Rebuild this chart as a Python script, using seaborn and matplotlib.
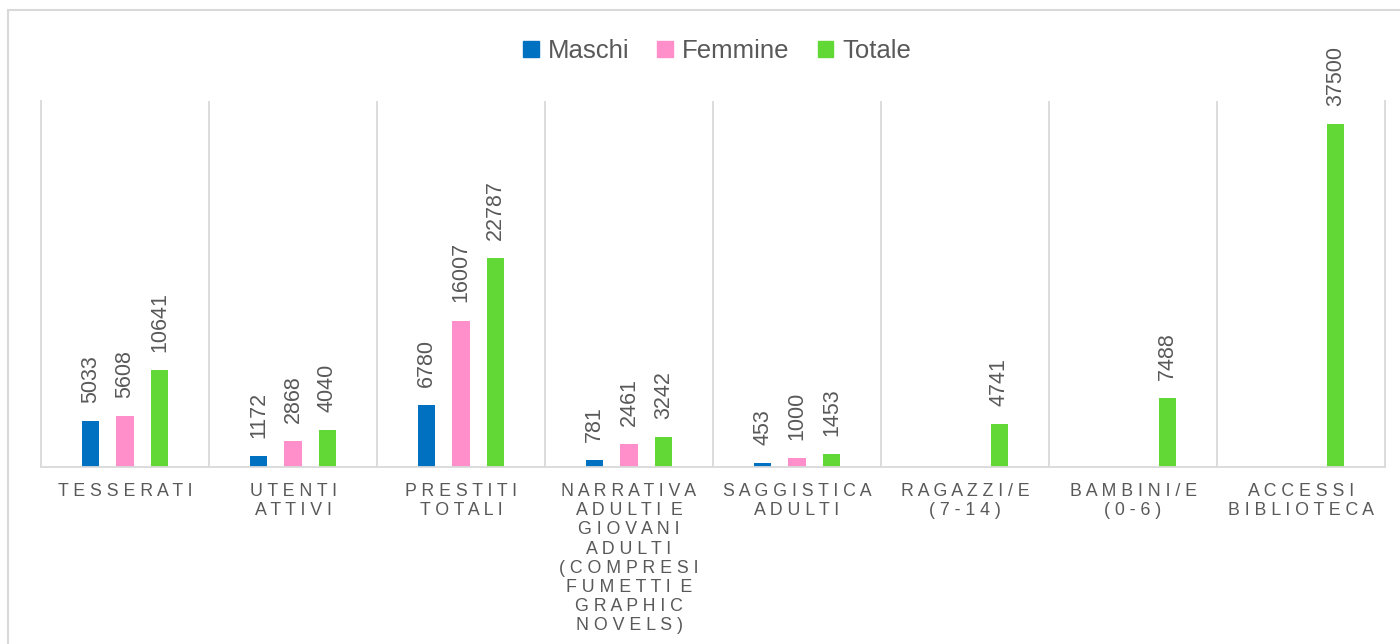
import numpy as np
import pandas as pd
import matplotlib
matplotlib.use("Agg")
import matplotlib.pyplot as plt
import seaborn as sns
from matplotlib.patches import Rectangle

categories = ["TESSERATI", "UTENTI\nATTIVI", "PRESTITI\nTOTALI",
              "NARRATIVA\nADULTI E\nGIOVANI\nADULTI\n(COMPRESI\nFUMETTI E\nGRAPHIC\nNOVELS)",
              "SAGGISTICA\nADULTI", "RAGAZZI/E\n(7-14)", "BAMBINI/E\n(0-6)", "ACCESSI\nBIBLIOTECA"]
series = ["Maschi", "Femmine", "Totale"]
maschi = [5033, 1172, 6780, 781, 453, np.nan, np.nan, np.nan]
femmine = [5608, 2868, 16007, 2461, 1000, np.nan, np.nan, np.nan]
totale = [10641, 4040, 22787, 3242, 1453, 4741, 7488, 37500]
colors = ["#0070C0", "#FF8FCA", "#62D836"]

rows = []
for name, vals in zip(series, [maschi, femmine, totale]):
    for c, v in zip(categories, vals):
        rows.append({"cat": c, "serie": name, "val": v})
df = pd.DataFrame(rows)

sns.set_style("white")
plt.rcParams["font.family"] = ["Liberation Sans", "DejaVu Sans"]
TXT = "#595959"
GRID = "#D9D9D9"

fig = plt.figure(figsize=(14, 6.44), dpi=100)
ax = fig.add_axes([41/1400, 1-467/644, (1385-41)/1400, (467-101)/644])

sns.barplot(data=df, x="cat", y="val", hue="serie", order=categories,
            hue_order=series, palette=colors, width=0.615, gap=0.49,
            ax=ax, legend=False, saturation=1, linewidth=0)

for cont in ax.containers:
    labels = [("" if (v is None or np.isnan(v) or v == 0) else f"{v:.0f}") for v in cont.datavalues]
    ax.bar_label(cont, labels=labels, rotation=90, padding=13, fontsize=15.5, color=TXT)

ax.set_ylim(0, 40000)
ax.set_xlim(-0.5, len(categories) - 0.5)
ax.set_yticks([])
ax.set_xlabel("")
ax.set_ylabel("")

def spaced(s):
    return "\n".join("  ".join(" ".join(w) for w in line.split(" ")) for line in s.split("\n"))

ax.set_xticks(range(len(categories)))
ax.set_xticklabels([spaced(c) for c in categories], fontsize=12.8, color=TXT,
                   linespacing=1.17, va="top")
ax.tick_params(axis="x", length=0, pad=11.5)
ax.set_xticks(np.arange(0.5, len(categories) - 1, 1.0), minor=True)
ax.tick_params(axis="x", which="minor", length=0)
ax.grid(False)
ax.grid(which="minor", axis="x", color=GRID, linewidth=1.3)
ax.set_axisbelow(True)
for s in ["left", "right", "bottom"]:
    ax.spines[s].set_color(GRID)
    ax.spines[s].set_linewidth(1.3)
ax.spines["top"].set_visible(False)

handles = [Rectangle((0, 0), 1, 1, color=c) for c in colors]
fig.legend(handles, series, loc="center", bbox_to_anchor=(717/1400, 1-51/644),
           ncol=3, frameon=False, fontsize=18.5, labelcolor=TXT,
           handlelength=0.6, handleheight=0.6, handletextpad=0.35, columnspacing=1.1)

fig.patches.append(Rectangle((8/1400, -0.1), 1.2, 1 - 10/644 + 0.1, transform=fig.transFigure,
                             fill=False, edgecolor=GRID, linewidth=1.5))

fig.savefig("out.png", dpi=100)
